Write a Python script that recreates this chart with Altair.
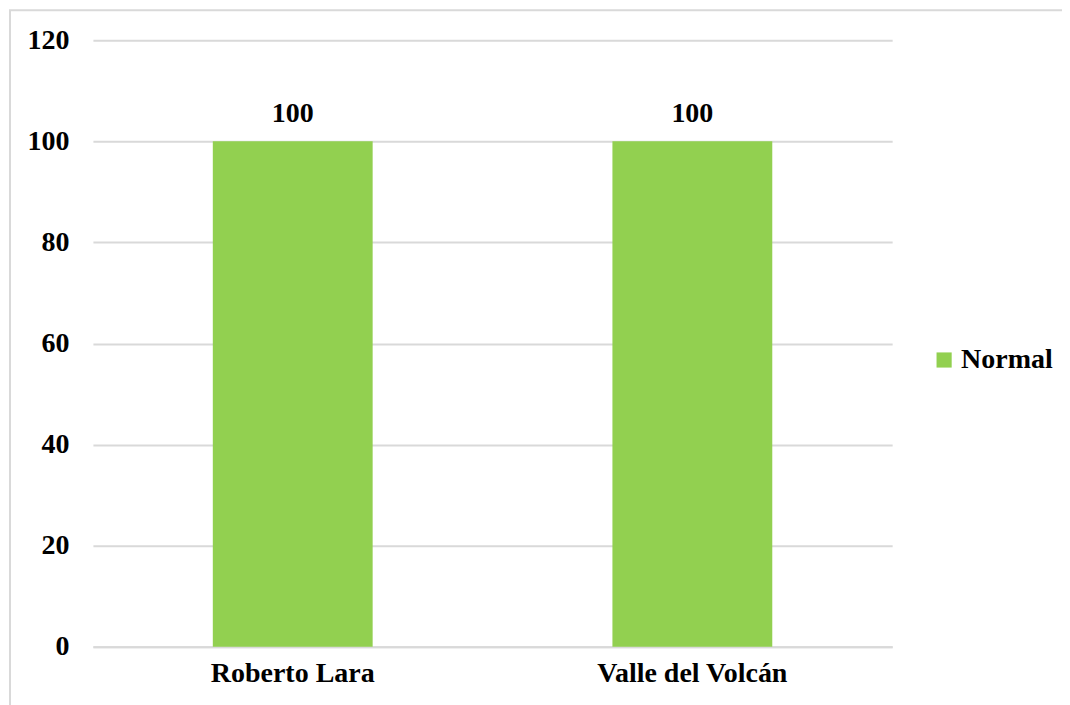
import altair as alt
import pandas as pd

categories = ["Roberto Lara", "Valle del Volcán"]
values = [100, 100]
series = ["Normal", "Normal"]
y_ticks = [0, 20, 40, 60, 80, 100, 120]

df = pd.DataFrame({"cat": categories, "val": values, "serie": series})
FONT = "Times New Roman, Liberation Serif, serif"
FS = 28

base = alt.Chart(df)

bars = base.mark_bar(size=160).encode(
    x=alt.X("cat:N", sort=categories, title=None,
            scale=alt.Scale(paddingInner=0.6, paddingOuter=0.3),
            axis=alt.Axis(labelAngle=0, labelFont=FONT, labelFontSize=FS, labelFontWeight="bold",
                          labelColor="black", labelPadding=13, ticks=False, domainColor="#d9d9d9",
                          domainWidth=2, grid=False, labelLimit=400)),
    y=alt.Y("val:Q", title=None, scale=alt.Scale(domain=[0, 120], nice=False),
            axis=alt.Axis(values=y_ticks, labelFont=FONT, labelFontSize=FS, labelFontWeight="bold",
                          labelColor="black", labelPadding=24, ticks=False, domain=False,
                          gridColor="#d9d9d9", gridWidth=2)),
    color=alt.Color("serie:N", scale=alt.Scale(range=["#92D050"]), title=None,
                    legend=alt.Legend(orient="none", legendX=838, legendY=306, symbolType="square",
                                      symbolSize=230, symbolStrokeWidth=0, labelFont=FONT,
                                      labelFontSize=FS, labelFontWeight="bold", labelColor="black",
                                      labelOffset=3)),
)

labels = base.mark_text(dy=-27, font=FONT, fontSize=FS, fontWeight="bold", color="black").encode(
    x=alt.X("cat:N", sort=categories),
    y=alt.Y("val:Q"),
    text=alt.Text("val:Q"),
)

border = alt.Chart(alt.Data(values=[{"a": 1}])).mark_rect(
    fill=None, stroke="#d9d9d9", strokeWidth=2
).encode(
    x=alt.value(-83), x2=alt.value(1100), y=alt.value(-30), y2=alt.value(720)
)

chart = alt.layer(border, bars, labels).properties(
    width=800, height=607,
    background="white",
    autosize=alt.AutoSizeParams(type="none"),
    padding={"left": 85, "top": 32, "right": 170, "bottom": 60},
).configure_view(stroke=None, strokeWidth=0)

chart.save("out.html", embed_options={"renderer": "svg", "actions": False})
